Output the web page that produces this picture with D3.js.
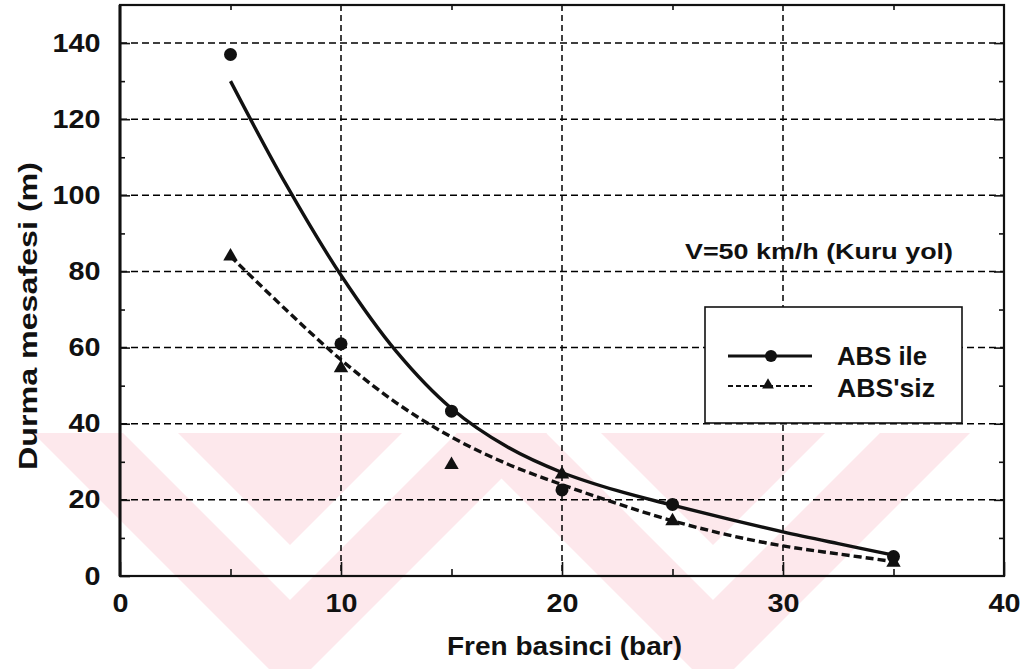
<!DOCTYPE html>
<html>
<head>
<meta charset="utf-8">
<script src="https://cdn.jsdelivr.net/npm/d3@7"></script>
<style>
body { margin: 0; background: #fff; }
text { font-family: "Liberation Sans", Arial, sans-serif; font-weight: bold; fill: #111; }
</style>
</head>
<body>
<div class="chart"></div>
<script>
const pressure = [5, 10, 15, 20, 25, 35]
const withAbs = [137, 61, 43.3, 22.6, 18.8, 5.1]
const withoutAbs = [84, 54.6, 29.2, 26.7, 14.4, 3.5]

const fitPressure = [5, 7.5, 10, 12.5, 15, 17.5, 20, 22.5, 25, 27.5, 30, 32.5, 35]
const withAbsFit = [130, 103, 79, 59, 44, 34, 27.2, 22.4, 18.6, 15, 11.6, 8.5, 5.5]
const withoutAbsFit = [84, 70, 56.8, 45.5, 36.5, 29.5, 24, 19, 14.5, 10.8, 7.9, 5.8, 3.8]

const xTicks = [0, 10, 20, 30, 40]
const xMinor = [5, 15, 25, 35]
const yTicks = [0, 20, 40, 60, 80, 100, 120, 140]
const yMinor = [10, 30, 50, 70, 90, 110, 130]

const seriesNames = ["ABS ile", "ABS'siz"]

// background watermark chevrons (pixel space)
const markCenters = [290, 713]
const markBands = [[433, 545], [600, 690]]

const w = 1029
const h = 669

const svg = d3.select(".chart")
    .append("svg")
    .attr("width", w)
    .attr("height", h)

const x = d3.scaleLinear().domain([0, 40]).range([120, 1004])
const y = d3.scaleLinear().domain([0, 150]).range([576, 5])

const ink = "#111"

// watermark
svg.append("clipPath")
    .attr("id", "mark-clip")
    .append("rect")
    .attr("x", 30).attr("y", 433)
    .attr("width", 945).attr("height", h - 433)

const markTop = 433
svg.append("g")
    .attr("clip-path", "url(#mark-clip)")
    .selectAll("polygon")
    .data(markCenters.flatMap(c => markBands.map(b => [c, b[0], b[1]])))
    .join("polygon")
    .attr("points", ([c, a, b]) => [
        [c - (b - markTop), markTop], [c, b], [c + (b - markTop), markTop],
        [c + (a - markTop), markTop], [c, a], [c - (a - markTop), markTop]
    ].join(" "))
    .attr("fill", "#fde8ec")

// grid
svg.append("g")
    .selectAll("line")
    .data(yTicks.slice(1))
    .join("line")
    .attr("x1", x(0))
    .attr("x2", x(40))
    .attr("y1", d => y(d))
    .attr("y2", d => y(d))
    .attr("stroke", "#000")
    .attr("stroke-width", 1.5)
    .attr("stroke-dasharray", "7,4")

svg.append("g")
    .selectAll("line")
    .data(xTicks.slice(1, -1))
    .join("line")
    .attr("x1", d => x(d))
    .attr("x2", d => x(d))
    .attr("y1", y(150))
    .attr("y2", y(0))
    .attr("stroke", "#000")
    .attr("stroke-width", 1.5)
    .attr("stroke-dasharray", "6,4")

// axes
const stretch = "scale(1.15,1)"

const leftAxis = svg.append("g")
    .attr("transform", `translate(${x(0)},0)`)
    .call(d3.axisLeft(y).tickValues(yTicks).tickSize(-10).tickPadding(17))
leftAxis.select(".domain").remove()
leftAxis.selectAll("text").attr("font-size", 25).attr("transform", stretch)

svg.append("g")
    .attr("transform", `translate(${x(0)},0)`)
    .call(d3.axisLeft(y).tickValues(yMinor).tickSize(-5).tickFormat(""))
    .select(".domain").remove()

svg.append("g")
    .attr("transform", `translate(${x(40)},0)`)
    .call(d3.axisRight(y).tickValues(yTicks.slice(1)).tickSize(-10).tickFormat(""))
    .select(".domain").remove()

svg.append("g")
    .attr("transform", `translate(${x(40)},0)`)
    .call(d3.axisRight(y).tickValues(yMinor).tickSize(-5).tickFormat(""))
    .select(".domain").remove()

const bottomAxis = svg.append("g")
    .attr("transform", `translate(0,${y(0)})`)
    .call(d3.axisBottom(x).tickValues(xTicks).tickSize(-14).tickPadding(18))
bottomAxis.select(".domain").remove()
bottomAxis.selectAll("text").attr("font-size", 25).attr("transform", stretch)

svg.append("g")
    .attr("transform", `translate(0,${y(0)})`)
    .call(d3.axisBottom(x).tickValues(xMinor).tickSize(-7).tickFormat(""))
    .select(".domain").remove()

svg.append("g")
    .attr("transform", `translate(0,${y(150)})`)
    .call(d3.axisTop(x).tickValues(xMinor).tickSize(-5).tickFormat(""))
    .select(".domain").remove()

svg.selectAll(".tick line").attr("stroke", ink).attr("stroke-width", 1.6)

// frame
svg.append("rect")
    .attr("x", x(0))
    .attr("y", y(150))
    .attr("width", x(40) - x(0))
    .attr("height", y(0) - y(150))
    .attr("fill", "none")
    .attr("stroke", ink)
    .attr("stroke-width", 2.2)

svg.append("line")
    .attr("x1", x(0)).attr("x2", x(0))
    .attr("y1", y(150)).attr("y2", y(0))
    .attr("stroke", ink)
    .attr("stroke-width", 3)

// fitted curves
const line = d3.line()
    .x(d => x(d[0]))
    .y(d => y(d[1]))
    .curve(d3.curveCatmullRom.alpha(0.5))

svg.append("path")
    .datum(fitPressure.map((p, i) => [p, withAbsFit[i]]))
    .attr("d", line)
    .attr("fill", "none")
    .attr("stroke", ink)
    .attr("stroke-width", 3.4)

svg.append("path")
    .datum(fitPressure.map((p, i) => [p, withoutAbsFit[i]]))
    .attr("d", line)
    .attr("fill", "none")
    .attr("stroke", ink)
    .attr("stroke-width", 3.4)
    .attr("stroke-dasharray", "8,4")

// measured points
svg.append("g")
    .selectAll("circle")
    .data(pressure.map((p, i) => [p, withAbs[i]]))
    .join("circle")
    .attr("cx", d => x(d[0]))
    .attr("cy", d => y(d[1]))
    .attr("r", 6.5)
    .attr("fill", ink)

const tri = d3.symbol(d3.symbolTriangle, 90)

svg.append("g")
    .selectAll("path")
    .data(pressure.map((p, i) => [p, withoutAbs[i]]))
    .join("path")
    .attr("d", tri)
    .attr("transform", d => `translate(${x(d[0])},${y(d[1])})`)
    .attr("fill", ink)

// annotation
svg.append("text")
    .attr("x", 685)
    .attr("y", 259)
    .attr("font-size", 22)
    .attr("textLength", 268)
    .attr("lengthAdjust", "spacingAndGlyphs")
    .text("V=50 km/h (Kuru yol)")

// legend
const legend = svg.append("g")

legend.append("rect")
    .attr("x", 705)
    .attr("y", 307)
    .attr("width", 257)
    .attr("height", 116)
    .attr("fill", "#fff")
    .attr("stroke", ink)
    .attr("stroke-width", 1.6)

legend.append("line")
    .attr("x1", 728).attr("x2", 812)
    .attr("y1", 356).attr("y2", 356)
    .attr("stroke", ink)
    .attr("stroke-width", 3)

legend.append("circle")
    .attr("cx", 771)
    .attr("cy", 356)
    .attr("r", 6)
    .attr("fill", ink)

legend.append("line")
    .attr("x1", 728).attr("x2", 812)
    .attr("y1", 386).attr("y2", 386)
    .attr("stroke", ink)
    .attr("stroke-width", 2.2)
    .attr("stroke-dasharray", "5,3")

legend.append("path")
    .attr("d", d3.symbol(d3.symbolTriangle, 60))
    .attr("transform", "translate(768,385)")
    .attr("fill", ink)

legend.selectAll(".name")
    .data(seriesNames)
    .join("text")
    .attr("class", "name")
    .attr("x", 837)
    .attr("y", (d, i) => 365 + i * 32)
    .attr("font-size", 25)
    .attr("textLength", (d, i) => i == 0 ? 90 : 98)
    .attr("lengthAdjust", "spacingAndGlyphs")
    .text(d => d)

// axis titles
svg.append("text")
    .attr("x", 447)
    .attr("y", 655)
    .attr("font-size", 25)
    .attr("textLength", 235)
    .attr("lengthAdjust", "spacingAndGlyphs")
    .text("Fren basinci (bar)")

svg.append("text")
    .attr("transform", "translate(37,470) rotate(-90)")
    .attr("font-size", 25)
    .attr("textLength", 308)
    .attr("lengthAdjust", "spacingAndGlyphs")
    .text("Durma mesafesi (m)")
</script>
</body>
</html>
